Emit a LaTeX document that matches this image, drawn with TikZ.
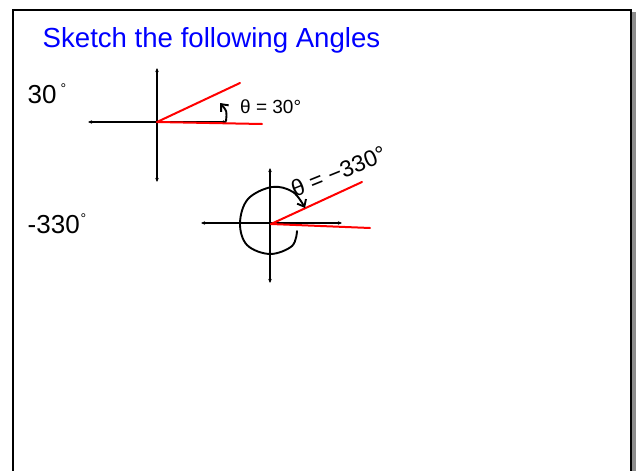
\documentclass[tikz,border=0pt]{standalone}
\usepackage{fontspec}
\setmainfont{Liberation Sans}
\usetikzlibrary{arrows.meta, positioning, calc}
\definecolor{tblue}{RGB}{0, 0, 255}
\definecolor{pred}{RGB}{255, 0, 0}
\definecolor{sgray}{RGB}{140, 140, 140}
\newcommand{\smalldeg}{\raisebox{10pt}{\fontsize{14}{14}\selectfont °}}

\begin{document}
\begin{tikzpicture}[x=1pt, y=-1pt,
    axis/.style={{Stealth[length=4pt,width=3.5pt]}-{Stealth[length=4pt,width=3.5pt]}, line width=1.1pt},
    ray/.style={pred, line width=2pt, line cap=round},
    pen/.style={line width=1.9pt, line cap=round},
    pentip/.style={-{Straight Barb[length=6pt,width=10pt]}},
    degtext/.style={font=\fontsize{26}{30}\selectfont, anchor=base west, inner sep=0pt},
    hand/.style={font=\fontsize{19}{22}\selectfont, anchor=base west, inner sep=0pt},
  ]
  \useasboundingbox (0,0) rectangle (638,471);
  % frame
  \fill[sgray] (632,12) rectangle (635.5,471);
  \draw[line width=2pt] (13,471) -- (13,10) -- (631,10) -- (631,471);
  \node[font=\fontsize{27.6}{32}\selectfont, text=tblue, anchor=base west, inner sep=0pt]
    (title) at (42.5,47) {Sketch the following Angles};
  % first angle
  \node[degtext] (deg1) at (27.5,103) {30\hspace{4pt}\smalldeg};
  \coordinate (o1) at (157,122);
  \coordinate (l1) at (88,122);   \coordinate (r1) at (227,122);
  \coordinate (t1) at (157,68);   \coordinate (b1) at (157,182);
  \draw[axis] (l1) -- (r1);
  \draw[axis] (t1) -- (b1);
  \coordinate (p1) at (240,83);   \coordinate (q1) at (262,124);
  \draw[ray] (o1) -- (p1);
  \draw[ray] (o1) -- (q1);
  \coordinate (s1) at (226,121);  \coordinate (e1) at (220,103);
  \draw[pen, pentip] (s1) .. controls (227,111) .. (e1);
  \node[hand] (th1) at (240,113) {θ = 30°};
  % second angle
  \node[degtext] (deg2) at (27.5,233) {-330\hspace{1pt}\smalldeg};
  \coordinate (o2) at (271,224);
  \coordinate (l2) at (201,223);  \coordinate (r2) at (342,223);
  \coordinate (t2) at (270,168);  \coordinate (b2) at (270,283);
  \draw[axis] (l2) -- (r2);
  \draw[axis] (t2) -- (b2);
  \coordinate (p2) at (362,182);  \coordinate (q2) at (370,228);
  \draw[ray] (o2) -- (p2);
  \draw[ray] (o2) -- (q2);
  \draw[pen, pentip] plot[smooth, tension=0.6] coordinates
    {(297,231) (292,246) (270,254) (247,245) (240,223) (248,199) (272,187) (293,192) (305,208)};
  \node[hand, font=\fontsize{23}{26}\selectfont, rotate=22] (th2) at (295,198) {θ = −330°};
\end{tikzpicture}
\end{document}
